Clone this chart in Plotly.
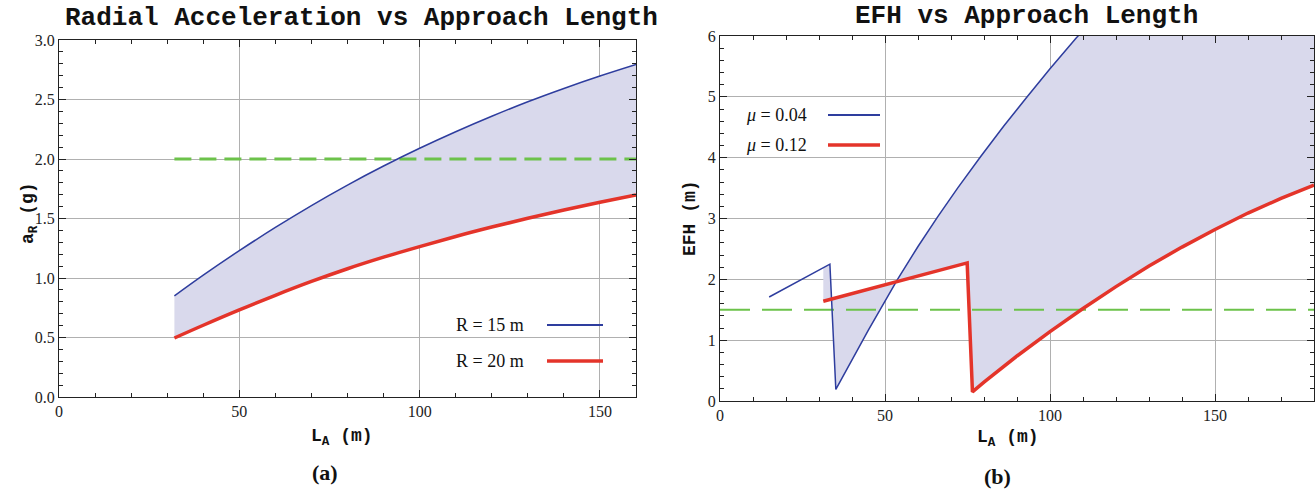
import numpy as np
import plotly.graph_objects as go

# ---- Panel (a): Radial acceleration vs approach length ----
la_a = [32, 40, 50, 60, 70, 80, 90, 100, 110, 120, 130, 140, 150, 160]
ar_r15 = [0.850, 1.024, 1.230, 1.425, 1.609, 1.781, 1.941, 2.090, 2.229, 2.359, 2.481, 2.593, 2.697, 2.794]
ar_r20 = [0.496, 0.603, 0.732, 0.855, 0.971, 1.078, 1.175, 1.264, 1.349, 1.428, 1.502, 1.571, 1.636, 1.697]
ar_limit = 2.0
ar_limit_x = [32, 160]

# ---- Panel (b): EFH vs approach length ----
la_b_mu04 = [14.9, 33.3, 35.1, 45, 53.8, 60, 66, 72, 79, 86, 92.9, 100, 108, 120, 140, 160, 180]
efh_mu04 = [1.71, 2.25, 0.19, 1.17, 2.0, 2.54, 3.03, 3.50, 4.02, 4.52, 4.99, 5.46, 5.97, 6.70, 7.84, 8.90, 9.90]
la_b_mu12 = [31.3, 74.9, 76.5, 80, 90, 100, 110, 120, 130, 140, 150, 160, 170, 180]
efh_mu12 = [1.64, 2.27, 0.15, 0.31, 0.74, 1.14, 1.52, 1.88, 2.22, 2.53, 2.82, 3.09, 3.33, 3.55]
efh_limit = 1.5
efh_limit_x = [0, 180]

BLUE = "#2e3d9e"
RED = "#e4342a"
GREEN = "#6cc24a"
FILL = "rgb(217,217,236)"
W, H = 1315, 492

fig = go.Figure()

# fills (a)
fig.add_trace(go.Scatter(x=la_a, y=ar_r15, mode="lines", line=dict(width=0, shape="spline"),
                         hoverinfo="skip", showlegend=False, xaxis="x", yaxis="y"))
fig.add_trace(go.Scatter(x=la_a, y=ar_r20, mode="lines", line=dict(width=0, shape="spline"),
                         fill="tonexty", fillcolor=FILL, hoverinfo="skip",
                         showlegend=False, xaxis="x", yaxis="y"))
# lines (a)
fig.add_trace(go.Scatter(x=ar_limit_x, y=[ar_limit] * 2, mode="lines",
                         line=dict(color=GREEN, width=3, dash="17px,8px"),
                         showlegend=False, xaxis="x", yaxis="y"))
fig.add_trace(go.Scatter(x=la_a, y=ar_r15, mode="lines",
                         line=dict(color=BLUE, width=1.5, shape="spline"),
                         showlegend=False, xaxis="x", yaxis="y"))
fig.add_trace(go.Scatter(x=la_a, y=ar_r20, mode="lines",
                         line=dict(color=RED, width=3.5, shape="spline"),
                         showlegend=False, xaxis="x", yaxis="y"))

# fills (b): blue from start of red curve onward
xb = np.array(la_b_mu04)
yb = np.array(efh_mu04)
x_start = la_b_mu12[0]
mask = xb > x_start
fill_x = np.concatenate([[x_start], xb[mask]])
fill_y = np.concatenate([[np.interp(x_start, xb, yb)], yb[mask]])
fig.add_trace(go.Scatter(x=fill_x, y=fill_y, mode="lines", line=dict(width=0),
                         hoverinfo="skip", showlegend=False, xaxis="x2", yaxis="y2"))
fig.add_trace(go.Scatter(x=la_b_mu12, y=efh_mu12, mode="lines", line=dict(width=0),
                         fill="tonexty", fillcolor=FILL, hoverinfo="skip",
                         showlegend=False, xaxis="x2", yaxis="y2"))
# lines (b)
fig.add_trace(go.Scatter(x=efh_limit_x, y=[efh_limit] * 2, mode="lines",
                         line=dict(color=GREEN, width=2, dash="30px,12px"),
                         showlegend=False, xaxis="x2", yaxis="y2"))
fig.add_trace(go.Scatter(x=la_b_mu04, y=efh_mu04, mode="lines", line=dict(color=BLUE, width=1.5),
                         showlegend=False, xaxis="x2", yaxis="y2"))
fig.add_trace(go.Scatter(x=la_b_mu12, y=efh_mu12, mode="lines", line=dict(color=RED, width=3.5),
                         showlegend=False, xaxis="x2", yaxis="y2"))

tickfont = dict(family="Liberation Serif", size=16, color="#222")
common = dict(showline=True, linecolor="#222", linewidth=1.2, mirror="ticks",
              ticks="inside", ticklen=7, tickcolor="#222", tickwidth=1,
              showgrid=True, gridcolor="#b0b0b0", gridwidth=1, zeroline=False,
              tickfont=tickfont, automargin=False)


def px2x(px):
    return px / W


def px2y(py):
    return 1 - py / H


fig.update_layout(
    width=W, height=H, margin=dict(l=0, r=0, t=0, b=0, autoexpand=False),
    paper_bgcolor="white", plot_bgcolor="white",
    xaxis=dict(domain=[px2x(59), px2x(636)], range=[0, 160], dtick=50,
               minor=dict(ticks="inside", dtick=10, ticklen=4, tickcolor="#222", showgrid=False),
               anchor="y", **common),
    yaxis=dict(domain=[px2y(397), px2y(40)], range=[0, 3], dtick=0.5, tickformat=".1f",
               minor=dict(ticks="inside", dtick=0.1, ticklen=4, tickcolor="#222", showgrid=False),
               anchor="x", **common),
    xaxis2=dict(domain=[px2x(720), px2x(1314)], range=[0, 180], dtick=50,
                minor=dict(ticks="inside", dtick=10, ticklen=4, tickcolor="#222", showgrid=False),
                anchor="y2", **common),
    yaxis2=dict(domain=[px2y(401), px2y(36)], range=[0, 6], dtick=1,
                minor=dict(ticks="inside", dtick=0.2, ticklen=4, tickcolor="#222", showgrid=False),
                anchor="x2", **common),
)

mono = "Liberation Mono"
serif = "Liberation Serif"
ann = []


def add_text(text, px, py, size, family, weight="normal", angle=0, xanchor="center"):
    ann.append(dict(text=text, x=px2x(px), y=px2y(py), xref="paper", yref="paper",
                    xanchor=xanchor, yanchor="middle", showarrow=False, textangle=angle,
                    font=dict(family=family, size=size, color="#111", weight=weight)))


add_text("Radial Acceleration vs Approach Length", 361, 18, 26, mono, "bold")
add_text("EFH vs Approach Length", 1026, 16, 26, mono, "bold")
add_text("L<sub>A</sub> (m)", 342, 437, 18, mono, "bold")
add_text("L<sub>A</sub> (m)", 1008, 438, 18, mono, "bold")
add_text("a<sub>R</sub> (g)", 30, 213, 18, mono, "bold", angle=-90)
add_text("EFH (m)", 690, 218, 18, mono, "bold", angle=-90)
add_text("(a)", 325, 472, 22, serif, "bold")
add_text("(b)", 997, 476, 22, serif, "bold")

# legends
add_text("R = 15 m", 526, 325, 18, serif, xanchor="right")
add_text("R = 20 m", 526, 361, 18, serif, xanchor="right")
add_text("<i>μ</i> = 0.04", 809, 115, 18, serif, xanchor="right")
add_text("<i>μ</i> = 0.12", 809, 145, 18, serif, xanchor="right")

shapes = [
    dict(type="line", xref="paper", yref="paper", x0=px2x(547), x1=px2x(603), y0=px2y(325), y1=px2y(325),
         line=dict(color=BLUE, width=2)),
    dict(type="line", xref="paper", yref="paper", x0=px2x(547), x1=px2x(603), y0=px2y(361), y1=px2y(361),
         line=dict(color=RED, width=3.5)),
    dict(type="line", xref="paper", yref="paper", x0=px2x(828), x1=px2x(880), y0=px2y(115), y1=px2y(115),
         line=dict(color=BLUE, width=2)),
    dict(type="line", xref="paper", yref="paper", x0=px2x(828), x1=px2x(880), y0=px2y(145), y1=px2y(145),
         line=dict(color=RED, width=3.5)),
]

fig.update_layout(annotations=ann, shapes=shapes)
fig.write_html("out.html", config={"displayModeBar": False},
               post_script="document.body.style.margin='0px';")
